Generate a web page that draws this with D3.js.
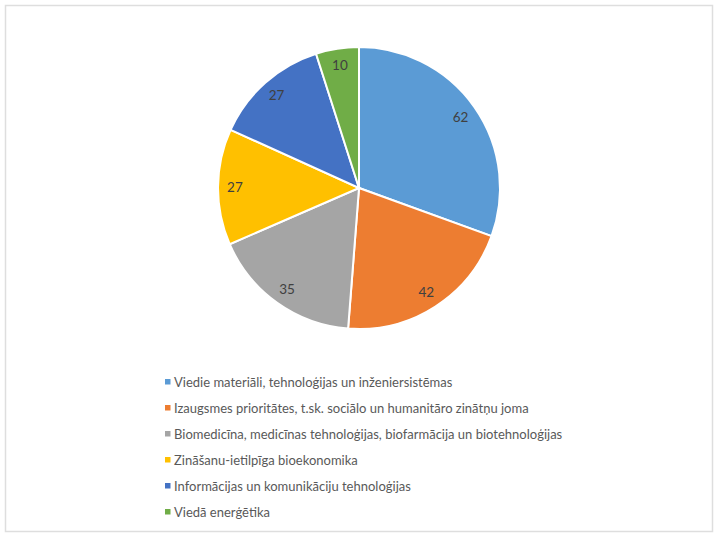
<!DOCTYPE html>
<html>
<head>
<meta charset="utf-8">
<script src="https://cdn.jsdelivr.net/npm/d3@7"></script>
<style>
  body { margin: 0; background: #fff; }
  svg text { font-family: Lato, "Open Sans", sans-serif; }
</style>
</head>
<body>
<div id="chart"></div>
<script>
// kategorijas un vērtības
var categories = [
    "Viedie materiāli, tehnoloģijas un inženiersistēmas",
    "Izaugsmes prioritātes, t.sk. sociālo un humanitāro zinātņu joma",
    "Biomedicīna, medicīnas tehnoloģijas, biofarmācija un biotehnoloģijas",
    "Zināšanu-ietilpīga bioekonomika",
    "Informācijas un komunikāciju tehnoloģijas",
    "Viedā enerģētika"
];
var values = [62, 42, 35, 27, 27, 10];
var colors = ["#5B9BD5", "#ED7D31", "#A5A5A5", "#FFC000", "#4472C4", "#70AD47"];

var width = 720, height = 539;
var cx = 359, cy = 188, radius = 141;

var svg = d3.select("#chart")
    .append("svg")
    .attr("width", width)
    .attr("height", height);

// ārējais rāmis
svg.append("rect")
    .attr("x", 5.5)
    .attr("y", 5.5)
    .attr("width", 707)
    .attr("height", 526)
    .attr("fill", "#fff")
    .attr("stroke", "#dedede")
    .attr("stroke-width", 1.5);

var data = categories.map(function(c, i) { return {name: c, value: values[i], color: colors[i]}; });

var pie = d3.pie()
    .value(function(d) { return d.value; })
    .sort(null);

var arc = d3.arc()
    .innerRadius(0)
    .outerRadius(radius);

var labelArc = d3.arc()
    .innerRadius(radius * 0.88)
    .outerRadius(radius * 0.88);

var g = svg.append("g")
    .attr("transform", "translate(" + cx + "," + cy + ")");

var arcs = pie(data);

g.selectAll("path")
    .data(arcs)
    .enter().append("path")
    .attr("d", arc)
    .attr("fill", function(d) { return d.data.color; })
    .attr("stroke", "#fff")
    .attr("stroke-width", 2);

g.selectAll(".lbl")
    .data(arcs)
    .enter().append("text")
    .attr("class", "lbl")
    .attr("transform", function(d) { return "translate(" + labelArc.centroid(d) + ")"; })
    .attr("text-anchor", "middle")
    .attr("dy", "0.35em")
    .attr("font-size", 13.5)
    .attr("fill", "#404040")
    .text(function(d) { return d.data.value; });

// leģenda
var yLegend = d3.scaleBand()
    .domain(categories)
    .range([369, 525]);

var legend = svg.selectAll(".legend")
    .data(data)
    .enter().append("g")
    .attr("class", "legend")
    .attr("transform", function(d) { return "translate(165," + (yLegend(d.name) + yLegend.bandwidth() / 2) + ")"; });

legend.append("rect")
    .attr("x", 0)
    .attr("y", -3)
    .attr("width", 5.5)
    .attr("height", 5.5)
    .attr("fill", function(d) { return d.color; });

legend.append("text")
    .attr("x", 9)
    .attr("dy", "0.35em")
    .attr("font-size", 13)
    .attr("fill", "#595959")
    .text(function(d) { return d.name; });
</script>
</body>
</html>
